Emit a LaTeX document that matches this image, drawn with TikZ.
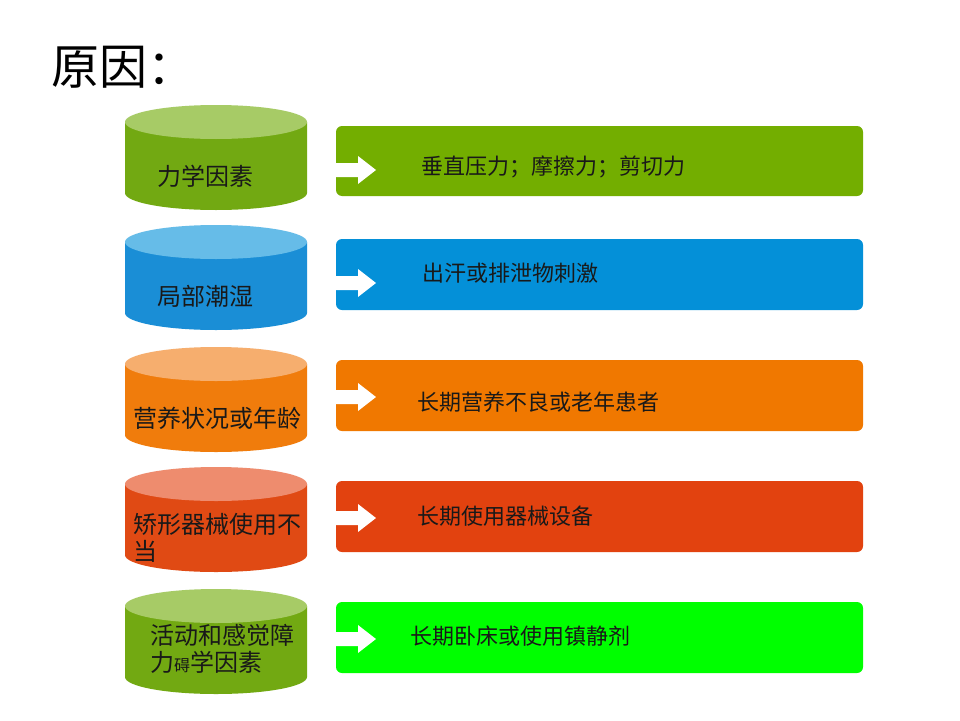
\documentclass[tikz,border=0pt]{standalone}
\usepackage{fontspec}
\setmainfont{Noto Sans CJK SC}
\newfontfamily\cjk{Noto Sans CJK SC}
\definecolor{gbar}{HTML}{73AE00}
\definecolor{bbar}{HTML}{0490D8}
\definecolor{obar}{HTML}{F07800}
\definecolor{rbar}{HTML}{E2420F}
\definecolor{lbar}{HTML}{00FF00}
\definecolor{gside}{HTML}{72A912}
\definecolor{gtop}{HTML}{A7CB66}
\definecolor{bside}{HTML}{1A8ED6}
\definecolor{btop}{HTML}{66BCE8}
\definecolor{oside}{HTML}{F07C0C}
\definecolor{otop}{HTML}{F6AE6E}
\definecolor{rside}{HTML}{E04A14}
\definecolor{rtop}{HTML}{EE8C6E}
\tikzset{
  barbox/.style={rounded corners=6pt, draw=none},
  bartext/.style={anchor=west, inner sep=0pt, font=\cjk\fontsize{22}{26}\selectfont, text=black!90},
  cyltext/.style={anchor=west, inner sep=0pt, align=left, font=\cjk\fontsize{24}{27}\selectfont, text=black!90},
  whitearrow/.style={fill=white, draw=none}
}
\newcommand{\cylshape}[3]{% top y, side colour, top colour
  \fill[#2] (125,#1+17) -- (125,#1+88) arc[start angle=180,end angle=0,x radius=91,y radius=17] -- (307,#1+17) -- cycle;
  \fill[#3] (216,#1+17) ellipse[x radius=91,y radius=17];
}
\newcommand{\bararrow}[1]{%
  \fill[whitearrow] (336,#1-7) -- (358,#1-7) -- (358,#1-14) -- (376,#1) -- (358,#1+14) -- (358,#1+7) -- (336,#1+7) -- cycle;
}
\begin{document}
\begin{tikzpicture}[x=1pt,y=-1pt]
\useasboundingbox (0,0) rectangle (960,720);
\fill[white] (0,0) rectangle (960,720);
% title
\node[anchor=west, inner sep=0pt, font=\cjk\fontsize{48}{50}\selectfont] (title) at (51,67) {原因：};
% cylinders
\cylshape{105}{gside}{gtop}
\cylshape{225}{bside}{btop}
\cylshape{347}{oside}{otop}
\cylshape{467}{rside}{rtop}
\cylshape{589}{gside}{gtop}
% bars
\fill[barbox, gbar] (336,126) rectangle (863,196);
\fill[barbox, bbar] (336,239) rectangle (863,310);
\fill[barbox, obar] (336,360) rectangle (863,431);
\fill[barbox, rbar] (336,481) rectangle (863,552);
\fill[barbox, lbar] (336,602) rectangle (863,673);
\bararrow{170}
\bararrow{283}
\bararrow{397}
\bararrow{518}
\bararrow{639}
% cylinder texts
\node[cyltext] (c1) at (157,176) {力学因素};
\node[cyltext] (c2) at (157,296) {局部潮湿};
\node[cyltext] (c3) at (133,418) {营养状况或年龄};
\node[cyltext] (c4) at (133,537.5) {矫形器械使用不\\当};
\node[cyltext] (c5) at (150,648.5) {活动和感觉障\\力{\fontsize{16}{27}\selectfont 碍}学因素};
% bar texts
\node[bartext] (t1) at (421,167) {垂直压力；摩擦力；剪切力};
\node[bartext] (t2) at (422,273) {出汗或排泄物刺激};
\node[bartext] (t3) at (417,402) {长期营养不良或老年患者};
\node[bartext] (t4) at (417,516) {长期使用器械设备};
\node[bartext] (t5) at (410,636) {长期卧床或使用镇静剂};
\end{tikzpicture}
\end{document}
